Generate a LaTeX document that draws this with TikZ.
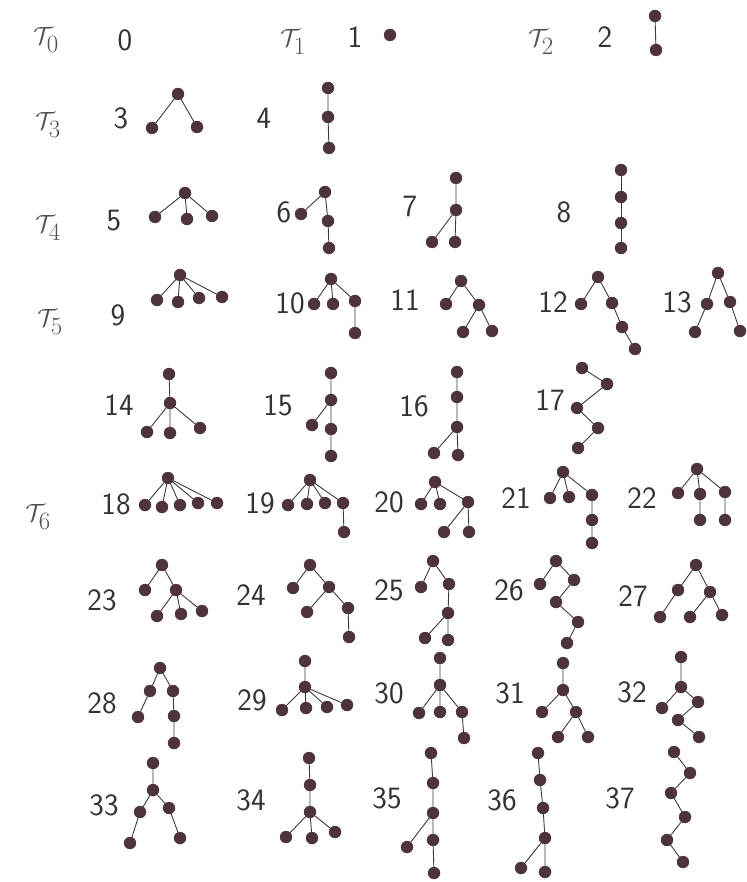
\documentclass[tikz,border=0pt]{standalone}
\usepackage{amsmath}
\definecolor{ink}{RGB}{78,52,58}
\definecolor{edgeink}{RGB}{65,58,58}
\definecolor{pencil}{RGB}{80,80,92}
\tikzset{
  v/.style={circle,fill=ink,draw=ink!80!black,line width=0.3pt,inner sep=0pt,minimum size=12pt},
  e/.style={draw=edgeink,line width=0.9pt},
  num/.style={text=black!80,font=\sffamily\fontsize{31}{34}\selectfont,inner sep=0pt},
  fam/.style={text=pencil,inner sep=0pt,font=\fontsize{34}{38}\selectfont}
}
\begin{document}
\begin{tikzpicture}[x=1pt,y=-1pt]
\useasboundingbox (0,0) rectangle (746,882);
\fill[white] (0,0) rectangle (746,882);
% family labels
\node[fam] (F0) at (46,40) {$\mathcal{T}_0$};
\node[fam] (F1) at (293,42) {$\mathcal{T}_1$};
\node[fam] (F2) at (541,42) {$\mathcal{T}_2$};
\node[fam] (F3) at (48,125) {$\mathcal{T}_3$};
\node[fam] (F4) at (48,228) {$\mathcal{T}_4$};
\node[fam] (F5) at (50,322) {$\mathcal{T}_5$};
\node[fam] (F6) at (38,517) {$\mathcal{T}_6$};
% numbers
\node[num] (L0) at (125,40) {0};
\node[num] (L1) at (355,37) {1};
\node[num] (L2) at (605,37) {2};
\node[num] (L3) at (121,118) {3};
\node[num] (L4) at (264,118) {4};
\node[num] (L5) at (114,221) {5};
\node[num] (L6) at (284,212) {6};
\node[num] (L7) at (410,206) {7};
\node[num] (L8) at (564,212) {8};
\node[num] (L9) at (118,315) {9};
\node[num] (L10) at (290,303) {10};
\node[num] (L11) at (405,300) {11};
\node[num] (L12) at (553,302) {12};
\node[num] (L13) at (677,302) {13};
\node[num] (L14) at (119,405) {14};
\node[num] (L15) at (278,405) {15};
\node[num] (L16) at (414,406) {16};
\node[num] (L17) at (550,400) {17};
\node[num] (L18) at (116,504) {18};
\node[num] (L19) at (260,503) {19};
\node[num] (L20) at (389,502) {20};
\node[num] (L21) at (516,498) {21};
\node[num] (L22) at (642,498) {22};
\node[num] (L23) at (102,600) {23};
\node[num] (L24) at (251,595) {24};
\node[num] (L25) at (389,590) {25};
\node[num] (L26) at (509,590) {26};
\node[num] (L27) at (633,596) {27};
\node[num] (L28) at (102,703) {28};
\node[num] (L29) at (252,700) {29};
\node[num] (L30) at (389,693) {30};
\node[num] (L31) at (510,693) {31};
\node[num] (L32) at (632,692) {32};
\node[num] (L33) at (104,805) {33};
\node[num] (L34) at (251,800) {34};
\node[num] (L35) at (387,798) {35};
\node[num] (L36) at (502,800) {36};
\node[num] (L37) at (620,798) {37};
% trees
\node[v] (t1a) at (390,35) {};
\node[v] (t2a) at (655,16) {}; \node[v] (t2b) at (656,50) {};
\draw[e] (t2a)--(t2b);
\node[v] (t3a) at (178,94) {}; \node[v] (t3b) at (152,128) {}; \node[v] (t3c) at (197,127) {};
\draw[e] (t3a)--(t3b) (t3a)--(t3c);
\node[v] (t4a) at (328,88) {}; \node[v] (t4b) at (328,117) {}; \node[v] (t4c) at (329,148) {};
\draw[e] (t4a)--(t4b) (t4b)--(t4c);
\node[v] (t5a) at (185,193) {}; \node[v] (t5b) at (155,217) {}; \node[v] (t5c) at (187,219) {}; \node[v] (t5d) at (212,216) {};
\draw[e] (t5a)--(t5b) (t5a)--(t5c) (t5a)--(t5d);
\node[v] (t6a) at (325,192) {}; \node[v] (t6b) at (301,214) {}; \node[v] (t6c) at (328,221) {}; \node[v] (t6d) at (329,248) {};
\draw[e] (t6a)--(t6b) (t6a)--(t6c) (t6c)--(t6d);
\node[v] (t7a) at (456,178) {}; \node[v] (t7b) at (456,210) {}; \node[v] (t7c) at (432,242) {}; \node[v] (t7d) at (455,242) {};
\draw[e] (t7a)--(t7b) (t7b)--(t7c) (t7b)--(t7d);
\node[v] (t8a) at (621,170) {}; \node[v] (t8b) at (621,197) {}; \node[v] (t8c) at (621,223) {}; \node[v] (t8d) at (621,248) {};
\draw[e] (t8a)--(t8b) (t8b)--(t8c) (t8c)--(t8d);
\node[v] (t9a) at (180,275) {}; \node[v] (t9b) at (157,300) {}; \node[v] (t9c) at (178,302) {}; \node[v] (t9d) at (199,298) {}; \node[v] (t9e) at (222,297) {};
\draw[e] (t9a)--(t9b) (t9a)--(t9c) (t9a)--(t9d) (t9a)--(t9e);
\node[v] (t10a) at (331,279) {}; \node[v] (t10b) at (314,304) {}; \node[v] (t10c) at (333,304) {}; \node[v] (t10d) at (355,301) {}; \node[v] (t10e) at (355,333) {};
\draw[e] (t10a)--(t10b) (t10a)--(t10c) (t10a)--(t10d) (t10d)--(t10e);
\node[v] (t11a) at (461,281) {}; \node[v] (t11b) at (446,304) {}; \node[v] (t11c) at (479,305) {}; \node[v] (t11d) at (463,332) {}; \node[v] (t11e) at (492,331) {};
\draw[e] (t11a)--(t11b) (t11a)--(t11c) (t11c)--(t11d) (t11c)--(t11e);
\node[v] (t12a) at (598,277) {}; \node[v] (t12b) at (581,304) {}; \node[v] (t12c) at (612,303) {}; \node[v] (t12d) at (622,327) {}; \node[v] (t12e) at (635,349) {};
\draw[e] (t12a)--(t12b) (t12a)--(t12c) (t12c)--(t12d) (t12d)--(t12e);
\node[v] (t13a) at (718,273) {}; \node[v] (t13b) at (707,304) {}; \node[v] (t13c) at (695,332) {}; \node[v] (t13d) at (730,302) {}; \node[v] (t13e) at (740,331) {};
\draw[e] (t13a)--(t13b) (t13b)--(t13c) (t13a)--(t13d) (t13d)--(t13e);
\node[v] (t14a) at (169,374) {}; \node[v] (t14b) at (170,403) {}; \node[v] (t14c) at (147,432) {}; \node[v] (t14d) at (170,433) {}; \node[v] (t14e) at (200,428) {};
\draw[e] (t14a)--(t14b) (t14b)--(t14c) (t14b)--(t14d) (t14b)--(t14e);
\node[v] (t15a) at (331,373) {}; \node[v] (t15b) at (331,400) {}; \node[v] (t15c) at (312,425) {}; \node[v] (t15d) at (331,429) {}; \node[v] (t15e) at (331,456) {};
\draw[e] (t15a)--(t15b) (t15b)--(t15c) (t15b)--(t15d) (t15d)--(t15e);
\node[v] (t16a) at (457,372) {}; \node[v] (t16b) at (457,397) {}; \node[v] (t16c) at (457,427) {}; \node[v] (t16d) at (434,453) {}; \node[v] (t16e) at (458,455) {};
\draw[e] (t16a)--(t16b) (t16b)--(t16c) (t16c)--(t16d) (t16c)--(t16e);
\node[v] (t17a) at (582,368) {}; \node[v] (t17b) at (607,384) {}; \node[v] (t17c) at (577,408) {}; \node[v] (t17d) at (598,428) {}; \node[v] (t17e) at (578,448) {};
\draw[e] (t17a)--(t17b) (t17b)--(t17c) (t17c)--(t17d) (t17d)--(t17e);
\node[v] (t18a) at (168,478) {}; \node[v] (t18b) at (145,505) {}; \node[v] (t18c) at (162,507) {}; \node[v] (t18d) at (180,505) {}; \node[v] (t18e) at (198,503) {}; \node[v] (t18f) at (217,503) {};
\draw[e] (t18a)--(t18b) (t18a)--(t18c) (t18a)--(t18d) (t18a)--(t18e) (t18a)--(t18f);
\node[v] (t19a) at (310,480) {}; \node[v] (t19b) at (288,505) {}; \node[v] (t19c) at (307,504) {}; \node[v] (t19d) at (325,503) {}; \node[v] (t19e) at (343,503) {}; \node[v] (t19f) at (344,532) {};
\draw[e] (t19a)--(t19b) (t19a)--(t19c) (t19a)--(t19d) (t19a)--(t19e) (t19e)--(t19f);
\node[v] (t20a) at (435,482) {}; \node[v] (t20b) at (421,504) {}; \node[v] (t20c) at (440,504) {}; \node[v] (t20d) at (468,502) {}; \node[v] (t20e) at (444,532) {}; \node[v] (t20f) at (469,532) {};
\draw[e] (t20a)--(t20b) (t20a)--(t20c) (t20a)--(t20d) (t20d)--(t20e) (t20d)--(t20f);
\node[v] (t21a) at (563,472) {}; \node[v] (t21b) at (550,498) {}; \node[v] (t21c) at (569,497) {}; \node[v] (t21d) at (592,495) {}; \node[v] (t21e) at (592,520) {}; \node[v] (t21f) at (592,543) {};
\draw[e] (t21a)--(t21b) (t21a)--(t21c) (t21a)--(t21d) (t21d)--(t21e) (t21e)--(t21f);
\node[v] (t22a) at (697,469) {}; \node[v] (t22b) at (678,493) {}; \node[v] (t22c) at (700,494) {}; \node[v] (t22d) at (725,492) {}; \node[v] (t22e) at (700,520) {}; \node[v] (t22f) at (725,520) {};
\draw[e] (t22a)--(t22b) (t22a)--(t22c) (t22a)--(t22d) (t22c)--(t22e) (t22d)--(t22f);
\node[v] (t23a) at (162,565) {}; \node[v] (t23b) at (145,590) {}; \node[v] (t23c) at (176,590) {}; \node[v] (t23d) at (157,616) {}; \node[v] (t23e) at (181,614) {}; \node[v] (t23f) at (202,611) {};
\draw[e] (t23a)--(t23b) (t23a)--(t23c) (t23c)--(t23d) (t23c)--(t23e) (t23c)--(t23f);
\node[v] (t24a) at (310,565) {}; \node[v] (t24b) at (293,588) {}; \node[v] (t24c) at (329,587) {}; \node[v] (t24d) at (307,612) {}; \node[v] (t24e) at (348,608) {}; \node[v] (t24f) at (349,637) {};
\draw[e] (t24a)--(t24b) (t24a)--(t24c) (t24c)--(t24d) (t24c)--(t24e) (t24e)--(t24f);
\node[v] (t25a) at (433,561) {}; \node[v] (t25b) at (421,587) {}; \node[v] (t25c) at (449,584) {}; \node[v] (t25d) at (448,613) {}; \node[v] (t25e) at (425,638) {}; \node[v] (t25f) at (448,640) {};
\draw[e] (t25a)--(t25b) (t25a)--(t25c) (t25c)--(t25d) (t25d)--(t25e) (t25d)--(t25f);
\node[v] (t26a) at (556,561) {}; \node[v] (t26b) at (540,584) {}; \node[v] (t26c) at (574,580) {}; \node[v] (t26d) at (556,602) {}; \node[v] (t26e) at (578,622) {}; \node[v] (t26f) at (567,643) {};
\draw[e] (t26a)--(t26b) (t26a)--(t26c) (t26c)--(t26d) (t26d)--(t26e) (t26e)--(t26f);
\node[v] (t27a) at (696,565) {}; \node[v] (t27b) at (678,590) {}; \node[v] (t27c) at (710,592) {}; \node[v] (t27d) at (660,617) {}; \node[v] (t27e) at (690,617) {}; \node[v] (t27f) at (722,615) {};
\draw[e] (t27a)--(t27b) (t27a)--(t27c) (t27b)--(t27d) (t27c)--(t27e) (t27c)--(t27f);
\node[v] (t28a) at (160,668) {}; \node[v] (t28b) at (150,691) {}; \node[v] (t28c) at (138,717) {}; \node[v] (t28d) at (173,691) {}; \node[v] (t28e) at (174,716) {}; \node[v] (t28f) at (174,743) {};
\draw[e] (t28a)--(t28b) (t28b)--(t28c) (t28a)--(t28d) (t28d)--(t28e) (t28e)--(t28f);
\node[v] (t29a) at (305,661) {}; \node[v] (t29b) at (305,687) {}; \node[v] (t29c) at (282,710) {}; \node[v] (t29d) at (306,708) {}; \node[v] (t29e) at (327,707) {}; \node[v] (t29f) at (347,705) {};
\draw[e] (t29a)--(t29b) (t29b)--(t29c) (t29b)--(t29d) (t29b)--(t29e) (t29b)--(t29f);
\node[v] (t30a) at (440,658) {}; \node[v] (t30b) at (440,685) {}; \node[v] (t30c) at (419,713) {}; \node[v] (t30d) at (440,712) {}; \node[v] (t30e) at (462,712) {}; \node[v] (t30f) at (464,738) {};
\draw[e] (t30a)--(t30b) (t30b)--(t30c) (t30b)--(t30d) (t30b)--(t30e) (t30e)--(t30f);
\node[v] (t31a) at (563,663) {}; \node[v] (t31b) at (563,690) {}; \node[v] (t31c) at (542,712) {}; \node[v] (t31d) at (576,712) {}; \node[v] (t31e) at (558,737) {}; \node[v] (t31f) at (588,737) {};
\draw[e] (t31a)--(t31b) (t31b)--(t31c) (t31b)--(t31d) (t31d)--(t31e) (t31d)--(t31f);
\node[v] (t32a) at (681,657) {}; \node[v] (t32b) at (681,687) {}; \node[v] (t32c) at (662,708) {}; \node[v] (t32d) at (698,702) {}; \node[v] (t32e) at (678,720) {}; \node[v] (t32f) at (699,737) {};
\draw[e] (t32a)--(t32b) (t32b)--(t32c) (t32b)--(t32d) (t32d)--(t32e) (t32e)--(t32f);
\node[v] (t33a) at (153,763) {}; \node[v] (t33b) at (153,790) {}; \node[v] (t33c) at (140,812) {}; \node[v] (t33d) at (130,843) {}; \node[v] (t33e) at (169,808) {}; \node[v] (t33f) at (180,838) {};
\draw[e] (t33a)--(t33b) (t33b)--(t33c) (t33c)--(t33d) (t33b)--(t33e) (t33e)--(t33f);
\node[v] (t34a) at (309,758) {}; \node[v] (t34b) at (310,785) {}; \node[v] (t34c) at (310,812) {}; \node[v] (t34d) at (286,837) {}; \node[v] (t34e) at (312,838) {}; \node[v] (t34f) at (335,832) {};
\draw[e] (t34a)--(t34b) (t34b)--(t34c) (t34c)--(t34d) (t34c)--(t34e) (t34c)--(t34f);
\node[v] (t35a) at (431,753) {}; \node[v] (t35b) at (433,783) {}; \node[v] (t35c) at (433,813) {}; \node[v] (t35d) at (407,847) {}; \node[v] (t35e) at (433,840) {}; \node[v] (t35f) at (434,873) {};
\draw[e] (t35a)--(t35b) (t35b)--(t35c) (t35c)--(t35d) (t35c)--(t35e) (t35e)--(t35f);
\node[v] (t36a) at (538,753) {}; \node[v] (t36b) at (540,780) {}; \node[v] (t36c) at (543,808) {}; \node[v] (t36d) at (545,838) {}; \node[v] (t36e) at (521,868) {}; \node[v] (t36f) at (545,872) {};
\draw[e] (t36a)--(t36b) (t36b)--(t36c) (t36c)--(t36d) (t36d)--(t36e) (t36d)--(t36f);
\node[v] (t37a) at (674,752) {}; \node[v] (t37b) at (690,773) {}; \node[v] (t37c) at (671,793) {}; \node[v] (t37d) at (685,817) {}; \node[v] (t37e) at (667,840) {}; \node[v] (t37f) at (683,862) {};
\draw[e] (t37a)--(t37b) (t37b)--(t37c) (t37c)--(t37d) (t37d)--(t37e) (t37e)--(t37f);
\end{tikzpicture}
\end{document}
